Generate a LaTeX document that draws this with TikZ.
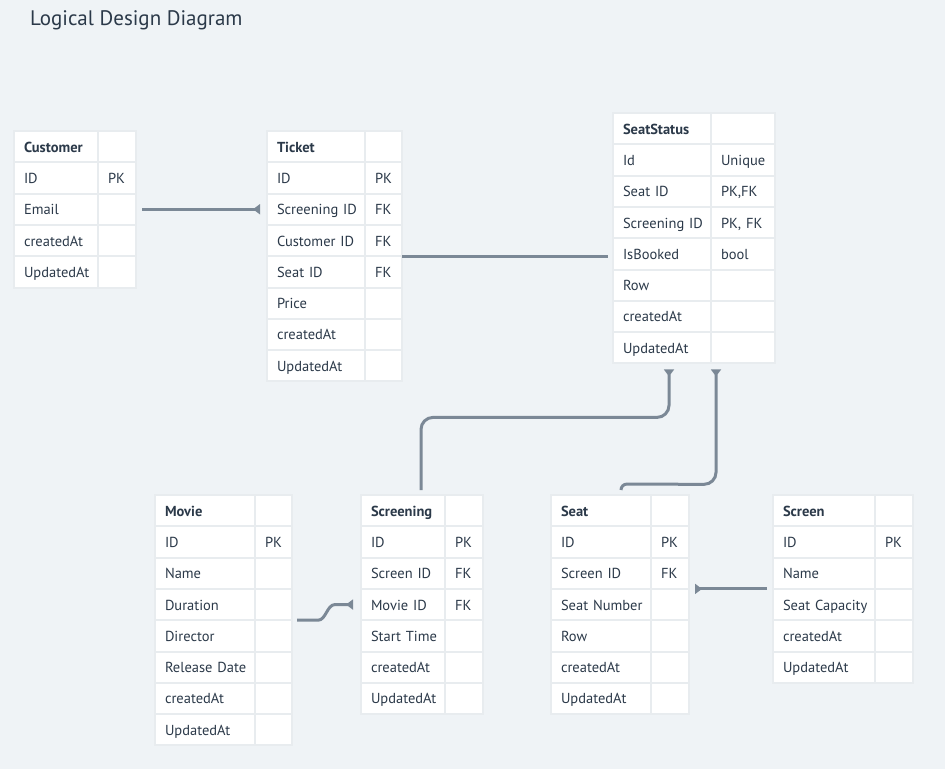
\documentclass[tikz,border=0pt]{standalone}
\usepackage{fontspec}
\setmainfont{PT Sans}
\usepackage{tikz}
\usetikzlibrary{arrows.meta, positioning, calc}
\definecolor{canvas}{HTML}{EFF3F6}
\definecolor{gridline}{HTML}{E8ECEF}
\definecolor{ink}{HTML}{2B3949}
\definecolor{linkgray}{HTML}{7B8896}

\begin{document}
\begin{tikzpicture}[
  x=1pt, y=-1pt,
  every node/.style={font=\fontsize{14.5}{16}\selectfont, text=ink},
  cell/.style={rectangle, draw=gridline, line width=2pt, fill=white, minimum height=31.3pt,
    inner xsep=10pt, inner ysep=0pt, outer sep=0pt, anchor=north west, align=left,
    text height=12pt, text depth=1pt},
  head/.style={cell, font=\fontsize{14.5}{16}\selectfont\bfseries},
  link/.style={draw=linkgray, line width=3pt},
  fk/.style={link, -{Triangle[reversed, width=10pt, length=7pt]}}
]

\fill[canvas] (0,0) rectangle (945,769);
\useasboundingbox (0,0) rectangle (945,769);

\node[anchor=west, inner sep=0pt, font=\fontsize{21}{24}\selectfont, text=ink] (title) at (30,20) {Logical Design Diagram};

% Customer
\node[head, text width=64pt] (cust-0) at (14,131) {Customer};
\node[cell, text width=18pt, right=0pt of cust-0] (cust-k0) {};
\foreach \f/\k [count=\i] in {ID/PK, Email/, createdAt/, UpdatedAt/} {
  \node[cell, text width=64pt] (cust-\i) at ($(cust-0.north west)+(0,\i*31.3)$) {\mbox{\f}};
  \node[cell, text width=18pt, right=0pt of cust-\i] (cust-k\i) {\mbox{\k}};
}

% Ticket
\node[head, text width=78pt] (tick-0) at (267,131) {Ticket};
\node[cell, text width=17pt, right=0pt of tick-0] (tick-k0) {};
\foreach \f/\k [count=\i] in {ID/PK, Screening ID/FK, Customer ID/FK, Seat ID/FK, Price/, createdAt/, UpdatedAt/} {
  \node[cell, text width=78pt] (tick-\i) at ($(tick-0.north west)+(0,\i*31.3)$) {\mbox{\f}};
  \node[cell, text width=17pt, right=0pt of tick-\i] (tick-k\i) {\mbox{\k}};
}

% SeatStatus
\node[head, text width=78pt] (stat-0) at (613,113) {SeatStatus};
\node[cell, text width=44pt, right=0pt of stat-0] (stat-k0) {};
\foreach \f/\k [count=\i] in {Id/Unique, Seat ID/{PK,FK}, Screening ID/{PK, FK}, IsBooked/bool, Row/, createdAt/, UpdatedAt/} {
  \node[cell, text width=78pt] (stat-\i) at ($(stat-0.north west)+(0,\i*31.3)$) {\mbox{\f}};
  \node[cell, text width=44pt, right=0pt of stat-\i] (stat-k\i) {\mbox{\k}};
}

% Movie
\node[head, text width=80pt] (mov-0) at (155,495) {Movie};
\node[cell, text width=17pt, right=0pt of mov-0] (mov-k0) {};
\foreach \f/\k [count=\i] in {ID/PK, Name/, Duration/, Director/, Release Date/, createdAt/, UpdatedAt/} {
  \node[cell, text width=80pt] (mov-\i) at ($(mov-0.north west)+(0,\i*31.3)$) {\mbox{\f}};
  \node[cell, text width=17pt, right=0pt of mov-\i] (mov-k\i) {\mbox{\k}};
}

% Screening
\node[head, text width=64pt] (scr-0) at (361,495) {Screening};
\node[cell, text width=18pt, right=0pt of scr-0] (scr-k0) {};
\foreach \f/\k [count=\i] in {ID/PK, Screen ID/FK, Movie ID/FK, Start Time/, createdAt/, UpdatedAt/} {
  \node[cell, text width=64pt] (scr-\i) at ($(scr-0.north west)+(0,\i*31.3)$) {\mbox{\f}};
  \node[cell, text width=18pt, right=0pt of scr-\i] (scr-k\i) {\mbox{\k}};
}

% Seat
\node[head, text width=80pt] (seat-0) at (551,495) {Seat};
\node[cell, text width=18pt, right=0pt of seat-0] (seat-k0) {};
\foreach \f/\k [count=\i] in {ID/PK, Screen ID/FK, Seat Number/, Row/, createdAt/, UpdatedAt/} {
  \node[cell, text width=80pt] (seat-\i) at ($(seat-0.north west)+(0,\i*31.3)$) {\mbox{\f}};
  \node[cell, text width=18pt, right=0pt of seat-\i] (seat-k\i) {\mbox{\k}};
}

% Screen
\node[head, text width=82pt] (scrn-0) at (773,495) {Screen};
\node[cell, text width=18pt, right=0pt of scrn-0] (scrn-k0) {};
\foreach \f/\k [count=\i] in {ID/PK, Name/, Seat Capacity/, createdAt/, UpdatedAt/} {
  \node[cell, text width=82pt] (scrn-\i) at ($(scrn-0.north west)+(0,\i*31.3)$) {\mbox{\f}};
  \node[cell, text width=18pt, right=0pt of scrn-\i] (scrn-k\i) {\mbox{\k}};
}

% Relations
\draw[fk] ($(cust-k2.east)+(6,0)$) -- ($(tick-2.west)+(-7,0)$);
\draw[link] (tick-k3.south east) -- ($(tick-k3.south east -| stat-4.west)+(-5,0)$);
\draw[fk, rounded corners=12] ($(scr-0.north west)+(60,-5)$) |- ($(stat-7.south west)+(56,54)$) -- ($(stat-7.south west)+(56,6)$);
\draw[fk] ($(seat-0.north west)+(70,-5)$) [rounded corners=6] -- ($(seat-0.north west)+(70,-11)$) [rounded corners=12] -- ($(stat-7.south west)+(103,121)$) -- ($(stat-7.south west)+(103,6)$);
\draw[fk] ($(mov-k3.south east)+(5,0)$) -- ++(21,0) .. controls +(8,0) and +(-8,0) .. ($(scr-3.west)+(-26,0)$) -- ($(scr-3.west)+(-8,0)$);
\draw[fk] ($(scrn-2.south west)+(-6,0)$) -- ($(seat-k2.south east)+(6,0)$);

\end{tikzpicture}
\end{document}
